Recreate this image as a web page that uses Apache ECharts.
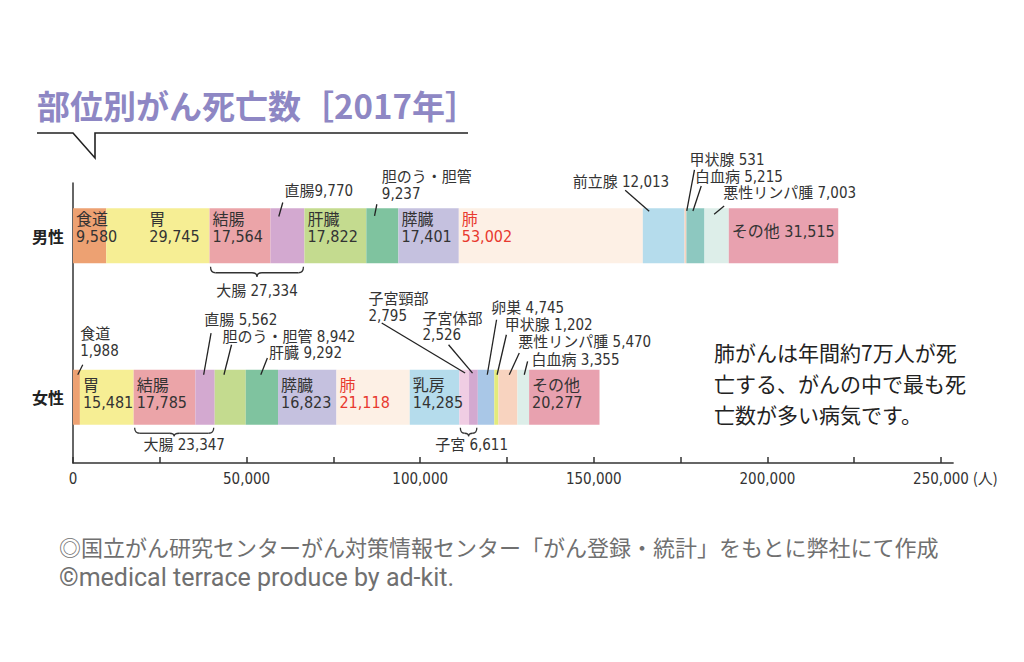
<!DOCTYPE html>
<html><head><meta charset="utf-8">
<script src="https://cdn.jsdelivr.net/npm/echarts@6/dist/echarts.min.js"></script>
<style>html,body{margin:0;padding:0;background:#fff;}#c{width:1024px;height:662px;}</style>
</head><body><div id="c"></div>
<script>
// ---------------- data ----------------
const categories = ['女性', '男性'];
const maleNames = ['食道','胃','結腸','直腸','肝臓','胆のう・胆管','膵臓','肺','前立腺','甲状腺','白血病','悪性リンパ腫','その他'];
const maleValues = [9580,29745,17564,9770,17822,9237,17401,53002,12013,531,5215,7003,31515];
const femaleNames = ['食道','胃','結腸','直腸','胆のう・胆管','肝臓','膵臓','肺','乳房','子宮頸部','子宮体部','卵巣','甲状腺','悪性リンパ腫','白血病','その他'];
const femaleValues = [1988,15481,17785,5562,8942,9292,16823,21118,14285,2795,2526,4745,1202,5470,3355,20277];
const groupNames = ['大腸','大腸','子宮'];
const groupValues = [27334,23347,6611];
const xTickValues = [0,25000,50000,75000,100000,125000,150000,175000,200000,225000,250000];
const xLabelValues = [0,50000,100000,150000,200000,250000];
const xAxisMax = 253500;
const xUnit = '(人)';
const titleText = '部位別がん死亡数［2017年］';
const noteText = '肺がんは年間約7万人が死\n亡する、がんの中で最も死\n亡数が多い病気です。';
const sourceText = '◎国立がん研究センターがん対策情報センター「がん登録・統計」をもとに弊社にて作成';
const creditText = '©medical terrace produce by ad-kit.';

// ---------------- styles ----------------
const maleColors = ['#EDA172','#F6EE94','#EBA4A8','#D3A9D0','#C4DB8F','#7FC39F','#C5C1DF','#FDF0E5','#B5DCEC','#F8D3BF','#8DC8C0','#DDEEE9','#E8A1AF'];
const femaleColors = ['#EDA172','#F6EE94','#EBA4A8','#D3A9D0','#C4DB8F','#7FC39F','#C5C1DF','#FDF0E5','#B5DCEC','#F0CDE3','#D3A9D0','#A9C7E7','#E3EB7B','#F8D3BF','#DDEEE9','#E8A1AF'];
const FONT_LABEL = "'Liberation Sans Narrow','DejaVu Sans Condensed','Noto Sans CJK JP',sans-serif";
const FONT_JP = "'Noto Sans CJK JP',sans-serif";
const BAR_W = 55;

const insideLabels = {
  male: {'食道':{sep:'\n'}, '胃':{sep:'\n',dx:40}, '結腸':{sep:'\n'}, '肝臓':{sep:'\n'}, '膵臓':{sep:'\n'}, '肺':{sep:'\n'}, 'その他':{sep:' ',dy:-4}},
  female: {'胃':{sep:'\n'}, '結腸':{sep:'\n'}, '膵臓':{sep:'\n'}, '肺':{sep:'\n'}, '乳房':{sep:'\n'}, 'その他':{sep:'\n'}}
};
// callouts: b = line end in bar, t = line end near text, l = text anchor (left, middle); relative to segment centre & bar top
const callouts = [
  {g:'male', name:'直腸', sep:'', b:[-8.7,8.3], t:[-4.7,-5.7], l:[-3,-17]},
  {g:'male', name:'胆のう・胆管', sep:'\n', lh:17, b:[-7.8,7.7], t:[-5.5,-4], l:[-0.5,-23]},
  {g:'male', name:'前立腺', sep:' ', b:[-14.5,3], t:[-38.5,-18], l:[-91,-26.5]},
  {g:'male', name:'甲状腺', sep:' ', b:[1.3,2.7], t:[9,-38.3], l:[4,-48.3]},
  {g:'male', name:'白血病', sep:' ', b:[-2.5,2.7], t:[5.8,-22.3], l:[-0.5,-31.7]},
  {g:'male', name:'悪性リンパ腫', sep:' ', b:[-2.5,6], t:[7.5,-2.3], l:[6.5,-15.7]},
  {g:'female', name:'食道', sep:'\n', lh:17.5, b:[1.3,5], t:[6.3,-5], l:[3.7,-27.3]},
  {g:'female', name:'直腸', sep:' ', b:[-1.4,5], t:[6,-36.7], l:[-0.7,-50]},
  {g:'female', name:'胆のう・胆管', sep:' ', b:[-6.3,5], t:[1.3,-25], l:[-7.7,-32.7]},
  {g:'female', name:'肝臓', sep:' ', b:[-1.1,5], t:[5.5,-11.7], l:[7.2,-16.7]},
  {g:'female', name:'子宮頸部', sep:'\n', lh:17, b:[0.9,3.3], t:[-82.5,-46.7], l:[-95.8,-62.5]},
  {g:'female', name:'子宮体部', sep:'\n', lh:16, b:[-0.9,3.3], t:[-24.9,-25], l:[-50.9,-42.8]},
  {g:'female', name:'卵巣', sep:' ', b:[1.2,5], t:[10.5,-50], l:[5.2,-61.7]},
  {g:'female', name:'甲状腺', sep:' ', b:[0.7,5], t:[10,-35], l:[8.4,-45]},
  {g:'female', name:'悪性リンパ腫', sep:' ', b:[1.3,5], t:[11.3,-16.7], l:[10.3,-27.3]},
  {g:'female', name:'白血病', sep:' ', b:[1,5], t:[4.3,-8.3], l:[8.3,-9.3]}
];
const brackets = [
  {g:'male', from:'結腸', to:'直腸', gi:0, y0:3.5, y1:9.5, y2:13.5, ly:27.7, ldx:0},
  {g:'female', from:'結腸', to:'直腸', gi:1, y0:3, y1:8.5, y2:11.5, ly:20, ldx:10},
  {g:'female', from:'子宮頸部', to:'子宮体部', gi:2, y0:3, y1:8.5, y2:11.5, ly:20, ldx:3}
];

function fmt(v){ return v.toLocaleString('en-US'); }
const genders = {
  female: {names: femaleNames, values: femaleValues, colors: femaleColors, cat: '女性', dy: -3.5},
  male: {names: maleNames, values: maleValues, colors: maleColors, cat: '男性', dy: -8}
};
function item(g, i) {
  const G = genders[g];
  if (i >= G.values.length) return '-';
  const name = G.names[i];
  const ins = insideLabels[g][name];
  const it = {value: G.values[i], name: name, itemStyle: {color: G.colors[i]}};
  if (ins) {
    it.label = {show: true, position: 'insideLeft', distance: 3,
      offset: [ins.dx || 0, ins.dy !== undefined ? ins.dy : G.dy],
      formatter: name + ins.sep + fmt(G.values[i]),
      color: name === '肺' ? '#E8392F' : '#333', fontSize: 16, lineHeight: 17, fontFamily: FONT_LABEL};
  } else {
    it.label = {show: false};
  }
  return it;
}
const nSeries = Math.max(maleValues.length, femaleValues.length);
const series = [];
for (let i = 0; i < nSeries; i++) {
  series.push({type: 'bar', stack: 'total', barWidth: BAR_W, xAxisIndex: 0, yAxisIndex: 0,
    data: categories.map(c => item(c === '男性' ? 'male' : 'female', i))});
}

const chart = echarts.init(document.getElementById('c'), null, {renderer: 'svg'});
const gridLeft = 73;
const plotW = 868 * xAxisMax / 250000;
const gridRight = 1024 - gridLeft - plotW;
chart.setOption({
  animation: false,
  backgroundColor: '#fff',
  grid: [
    {left: gridLeft, right: gridRight, top: 155, height: 323},
    {left: gridLeft, right: gridRight, top: 183, height: 280}
  ],
  xAxis: [
    {type: 'value', gridIndex: 0, min: 0, max: xAxisMax, show: false},
    {type: 'value', gridIndex: 1, min: 0, max: xAxisMax,
      axisLine: {show: true, onZero: false, lineStyle: {color: '#333', width: 1.5}},
      axisTick: {show: true, inside: true, length: 6, customValues: xTickValues, lineStyle: {color: '#333', width: 1.5}},
      axisLabel: {show: true, customValues: xLabelValues, margin: 8, formatter: v => fmt(v), color: '#333', fontSize: 15, fontFamily: FONT_LABEL},
      splitLine: {show: false},
      name: xUnit, nameLocation: 'end', nameGap: 15,
      nameTextStyle: {color: '#333', fontSize: 15, fontFamily: FONT_JP, verticalAlign: 'top', padding: [7, 0, 0, 0]}}
  ],
  yAxis: [
    {type: 'category', gridIndex: 0, data: categories,
      axisLine: {show: false}, axisTick: {show: false}, splitLine: {show: false},
      axisLabel: {margin: 9, color: '#222', fontSize: 16, fontWeight: 'bold', fontFamily: FONT_JP}},
    {type: 'value', gridIndex: 1, min: 0, max: 1,
      axisLine: {show: true, onZero: false, lineStyle: {color: '#333', width: 1.5}},
      axisTick: {show: false}, axisLabel: {show: false}, splitLine: {show: false}}
  ],
  series: series
});

// ---------------- annotations via the chart's own scales ----------------
function segGeom(g, i) {
  const G = genders[g];
  const ci = categories.indexOf(G.cat);
  let s = 0;
  for (let k = 0; k < i; k++) s += G.values[k];
  const p0 = chart.convertToPixel({xAxisIndex: 0, yAxisIndex: 0}, [s, ci]);
  const p1 = chart.convertToPixel({xAxisIndex: 0, yAxisIndex: 0}, [s + G.values[i], ci]);
  return {x0: p0[0], x1: p1[0], cx: (p0[0] + p1[0]) / 2, top: p0[1] - BAR_W / 2, bottom: p0[1] + BAR_W / 2};
}
function txt(x, y, text, font, fill, extra) {
  return {type: 'text', x: x, y: y, silent: true,
    style: Object.assign({text: text, font: font, fill: fill, textAlign: 'left', align: 'left', textVerticalAlign: 'middle', verticalAlign: 'middle'}, extra || {})};
}
const graphics = [];
const LINE = {stroke: '#222', lineWidth: 1.3};
callouts.forEach(c => {
  const G = genders[c.g];
  const i = G.names.indexOf(c.name);
  const s = segGeom(c.g, i);
  graphics.push({type: 'line', silent: true, z: 100,
    shape: {x1: s.cx + c.b[0], y1: s.top + c.b[1], x2: s.cx + c.t[0], y2: s.top + c.t[1]}, style: LINE});
  graphics.push(txt(s.cx + c.l[0], s.top + c.l[1], c.name + c.sep + fmt(G.values[i]),
    '15px ' + FONT_LABEL, '#333', {lineHeight: c.lh || 16}));
});
brackets.forEach(b => {
  const G = genders[b.g];
  const a = segGeom(b.g, G.names.indexOf(b.from));
  const e = segGeom(b.g, G.names.indexOf(b.to));
  const x1 = a.x0 + 1, x2 = e.x1 - 1, m = (x1 + x2) / 2;
  const y0 = a.bottom + b.y0, y1 = a.bottom + b.y1, y2 = a.bottom + b.y2;
  const r = Math.min(5, (x2 - x1) / 4);
  const st = {stroke: '#333', lineWidth: 1.3, fill: 'none'};
  graphics.push({type: 'bezierCurve', silent: true, shape: {x1: x1, y1: y0, x2: x1 + r, y2: y1, cpx1: x1, cpy1: y1}, style: st});
  graphics.push({type: 'line', silent: true, shape: {x1: x1 + r, y1: y1, x2: m - r, y2: y1}, style: st});
  graphics.push({type: 'bezierCurve', silent: true, shape: {x1: m - r, y1: y1, x2: m, y2: y2, cpx1: m, cpy1: y1}, style: st});
  graphics.push({type: 'bezierCurve', silent: true, shape: {x1: m, y1: y2, x2: m + r, y2: y1, cpx1: m, cpy1: y1}, style: st});
  graphics.push({type: 'line', silent: true, shape: {x1: m + r, y1: y1, x2: x2 - r, y2: y1}, style: st});
  graphics.push({type: 'bezierCurve', silent: true, shape: {x1: x2 - r, y1: y1, x2: x2, y2: y0, cpx1: x2, cpy1: y1}, style: st});
  graphics.push(txt(m + b.ldx, a.bottom + b.ly, groupNames[b.gi] + ' ' + fmt(groupValues[b.gi]),
    '15px ' + FONT_LABEL, '#333', {textAlign: 'center', align: 'center'}));
});
// header
graphics.push(txt(37, 105, titleText, 'bold 33px ' + FONT_JP, '#8E87C4'));
graphics.push({type: 'polyline', silent: true, shape: {points: [[37,133],[73,133],[95,158],[95,133],[468,133]]},
  style: {stroke: '#222', lineWidth: 1.6, fill: 'none'}});
// note
graphics.push(txt(714, 336, noteText, '21px ' + FONT_JP, '#222', {lineHeight: 31, textVerticalAlign: 'top', verticalAlign: 'top'}));
// footer
graphics.push(txt(59, 546, sourceText, '22px ' + FONT_JP, '#707070'));
graphics.push(txt(59, 577, creditText, "25px Roboto,'Noto Sans',sans-serif", '#707070'));

chart.setOption({graphic: {elements: graphics}});
</script>
</body></html>
